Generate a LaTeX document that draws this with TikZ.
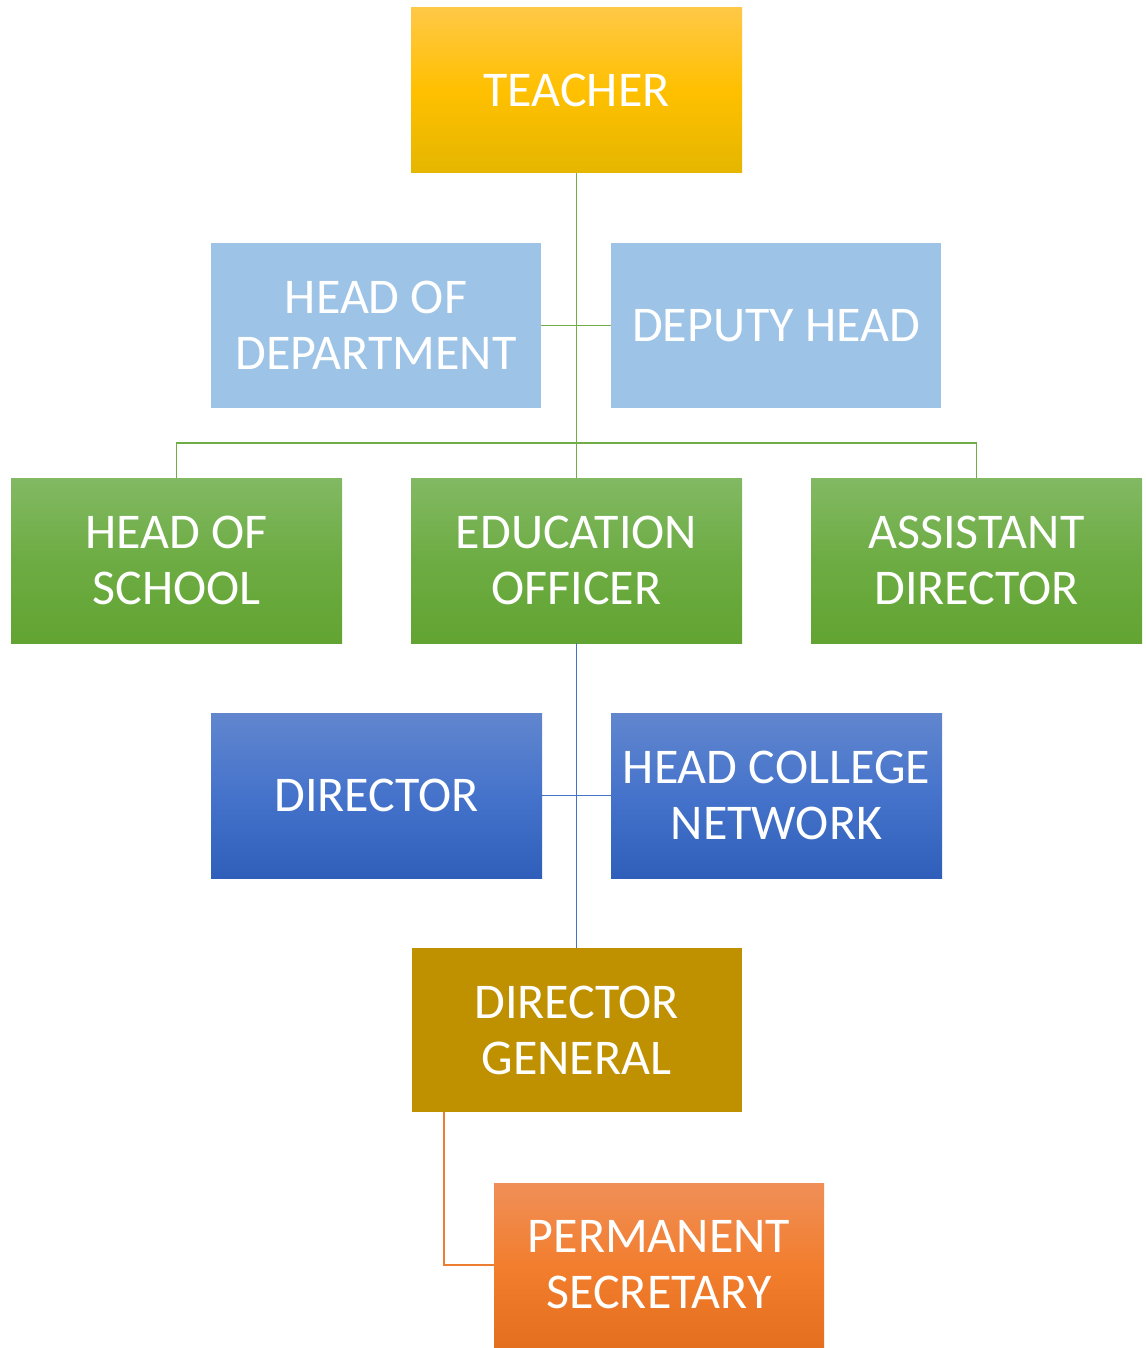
\documentclass[tikz,border=0pt]{standalone}
\usepackage{fontspec}
\setmainfont{Carlito}
\definecolor{tchtop}{HTML}{FFC846}
\definecolor{tchmid}{HTML}{FFC000}
\definecolor{tchbot}{HTML}{E5B600}
\definecolor{lblue}{HTML}{9DC3E6}
\definecolor{grtop}{HTML}{82B963}
\definecolor{grmid}{HTML}{6DAC43}
\definecolor{grbot}{HTML}{62A432}
\definecolor{bltop}{HTML}{6186CE}
\definecolor{blmid}{HTML}{4573CB}
\definecolor{blbot}{HTML}{2F5FBA}
\definecolor{dgcol}{HTML}{BF9000}
\definecolor{ortop}{HTML}{F08F58}
\definecolor{ormid}{HTML}{F27E2E}
\definecolor{orbot}{HTML}{E46F1E}
\definecolor{lngreen}{HTML}{70AD47}
\definecolor{lnblue}{HTML}{4472C4}
\definecolor{lnorange}{HTML}{ED7D31}
\tikzset{
  box/.style={rectangle, inner sep=0pt, minimum width=331pt, minimum height=165pt,
    text=white, align=center, font=\fontsize{50}{56}\selectfont},
  yellowbox/.style={box, top color=tchtop, bottom color=tchbot, middle color=tchmid},
  lightbox/.style={box, fill=lblue},
  greenbox/.style={box, top color=grtop, bottom color=grbot, middle color=grmid},
  bluebox/.style={box, top color=bltop, bottom color=blbot, middle color=blmid},
  goldbox/.style={box, fill=dgcol},
  orangebox/.style={box, top color=ortop, bottom color=orbot, middle color=ormid},
  gline/.style={draw=lngreen, line width=1.4pt},
  bline/.style={draw=lnblue, line width=1.4pt},
  oline/.style={draw=lnorange, line width=1.4pt}
}
\begin{document}
\begin{tikzpicture}[x=1pt,y=-1pt]
\useasboundingbox (0,0) rectangle (1145,1348);
\coordinate (g) at (576.5,443);
\coordinate (o) at (444,1112);
\node[yellowbox] (T) at (576.5,90.5) {TEACHER};
\node[lightbox, minimum width=330pt] (HOD) at (376,325.5) {HEAD OF\\DEPARTMENT};
\node[lightbox, minimum width=330pt] (DH) at (776,325.5) {DEPUTY HEAD};
\node[greenbox] (HOS) at (176.5,560.5) {HEAD OF\\SCHOOL};
\node[greenbox] (EO) at (576.5,560.5) {EDUCATION\\OFFICER};
\node[greenbox] (AD) at (976.5,560.5) {ASSISTANT\\DIRECTOR};
\node[bluebox] (DIR) at (376.5,795.5) {DIRECTOR};
\node[bluebox] (HCN) at (776.5,795.5) {HEAD COLLEGE\\NETWORK};
\node[goldbox, minimum width=330pt, minimum height=164pt] (DG) at (576.5,1030) {DIRECTOR\\GENERAL};
\node[orangebox, minimum width=330pt, minimum height=164pt] (PS) at (659,1265) {PERMANENT\\SECRETARY};
\draw[gline] (T.south) -- (EO.north);
\draw[gline] (HOD.east) -- (DH.west);
\draw[gline] (HOS.north) |- (g) -| (AD.north);
\draw[bline] (EO.south) -- (DG.north);
\draw[bline] (DIR.east) -- (HCN.west);
\draw[oline] (o) |- (PS.west);
\end{tikzpicture}
\end{document}
